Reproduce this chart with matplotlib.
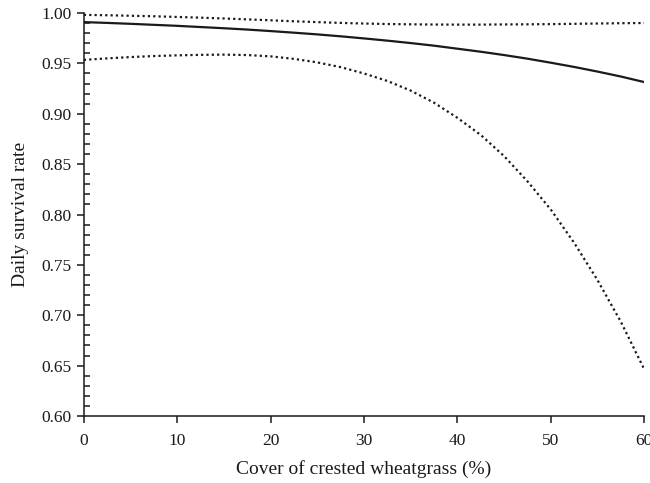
import matplotlib
matplotlib.use('Agg')
import matplotlib.pyplot as plt
from matplotlib.ticker import MultipleLocator

# values (cover %, daily survival rate)
cover = [0, 2.5, 5, 7.5, 10, 12.5, 15, 17.5, 20, 22.5, 25, 27.5, 30,
         32.5, 35, 37.5, 40, 42.5, 45, 47.5, 50, 52.5, 55, 57.5, 60]
dsr_mean = [0.9910, 0.9902, 0.9893, 0.9883, 0.9873, 0.9861, 0.9849, 0.9836,
            0.9821, 0.9805, 0.9788, 0.9769, 0.9748, 0.9726, 0.9702, 0.9676,
            0.9646, 0.9616, 0.9583, 0.9547, 0.9507, 0.9465, 0.9419, 0.9370,
            0.9315]
dsr_upper = [0.9982, 0.9978, 0.9973, 0.9968, 0.9961, 0.9954, 0.9946, 0.9937,
             0.9928, 0.9918, 0.9910, 0.9902, 0.9896, 0.9891, 0.9888, 0.9886,
             0.9885, 0.9885, 0.9887, 0.9888, 0.9890, 0.9893, 0.9896, 0.9899,
             0.9901]
dsr_lower = [0.9535, 0.9550, 0.9563, 0.9573, 0.9580, 0.9585, 0.9587, 0.9583,
             0.9570, 0.9545, 0.9510, 0.9463, 0.9400, 0.9326, 0.9230, 0.9110,
             0.8960, 0.8790, 0.8580, 0.8330, 0.8050, 0.7720, 0.7350, 0.6936,
             0.6466]

plt.rcParams['font.family'] = ['Liberation Serif', 'DejaVu Serif']

fig = plt.figure(figsize=(6.5, 4.83), dpi=100)
ax = fig.add_axes([0.129, 0.1387, 0.862, 0.8343])

ink = '#1a1a1a'
ax.plot(cover, dsr_mean, color=ink, lw=1.6, solid_capstyle='butt')
ax.plot(cover, dsr_upper, color=ink, lw=1.6, linestyle=(0, (1, 1.4)))
ax.plot(cover, dsr_lower, color=ink, lw=1.6, linestyle=(0, (1, 1.4)))

ax.set_xlim(0, 60)
ax.set_ylim(0.60, 1.00)
ax.xaxis.set_major_locator(MultipleLocator(10))
ax.yaxis.set_major_locator(MultipleLocator(0.05))
ax.yaxis.set_minor_locator(MultipleLocator(0.01))
ax.yaxis.set_major_formatter(plt.FormatStrFormatter('%.2f'))

for s in ['top', 'right']:
    ax.spines[s].set_visible(False)
for s in ['left', 'bottom']:
    ax.spines[s].set_linewidth(1.1)
    ax.spines[s].set_color(ink)

ax.tick_params(axis='both', which='major', direction='out', length=5,
               width=1.1, labelsize=12.5, colors=ink, pad=4)
ax.tick_params(axis='y', which='minor', direction='in', length=4, width=1.1,
               colors=ink)
ax.tick_params(axis='x', which='major', pad=7)

ax.set_xlabel('Cover of crested wheatgrass (%)', fontsize=14, labelpad=8,
              color=ink)
ax.set_ylabel('Daily survival rate', fontsize=14, labelpad=9, color=ink)

fig.savefig('out.png', dpi=100)
